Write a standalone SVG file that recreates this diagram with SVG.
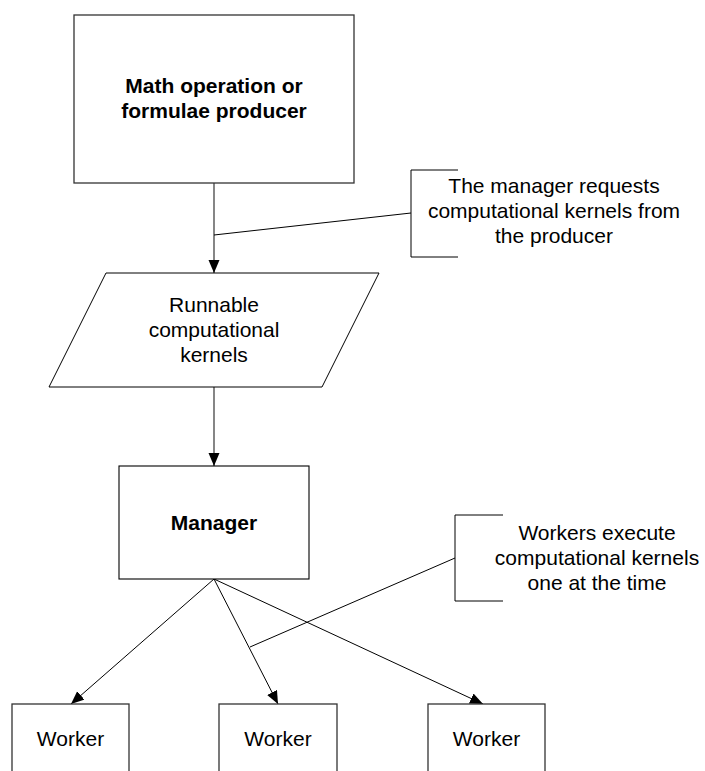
<svg xmlns="http://www.w3.org/2000/svg" width="705" height="771" viewBox="0 0 705 771">
  <defs>
    <marker id="arrow" markerUnits="userSpaceOnUse" markerWidth="14" markerHeight="12" refX="13" refY="5.5" orient="auto">
      <path d="M0,0 L13,5.5 L0,11 z" fill="#000"/>
    </marker>
    <style>
      .box { fill: #fff; stroke: #333; stroke-width: 1.3; }
      .edge { fill: none; stroke: #000; stroke-width: 1; }
      .flow { fill: none; stroke: #444; stroke-width: 1.3; }
      .note { fill: none; stroke: #000; stroke-width: 1; }
      text { font-family: "Liberation Sans", Arial, sans-serif; font-size: 21px; fill: #000; text-anchor: middle; }
      .bold { font-weight: bold; }
    </style>
  </defs>

  <rect width="705" height="771" fill="#fff"/>

  <!-- connectors -->
  <g id="connectors">
    <line class="flow" x1="214" y1="183" x2="214" y2="273" marker-end="url(#arrow)"/>
    <line class="flow" x1="214" y1="387" x2="214" y2="466" marker-end="url(#arrow)"/>
    <line class="edge" x1="214" y1="579" x2="71" y2="704" marker-end="url(#arrow)"/>
    <line class="edge" x1="214" y1="579" x2="278" y2="704" marker-end="url(#arrow)"/>
    <line class="edge" x1="214" y1="579" x2="483" y2="704" marker-end="url(#arrow)"/>
    <!-- annotation leaders -->
    <line class="note" x1="214" y1="235" x2="411" y2="213"/>
    <line class="note" x1="250" y1="647" x2="455" y2="558"/>
  </g>

  <g id="producer">
    <rect class="box" x="74" y="15" width="280" height="168"/>
    <text class="bold" x="214" y="93">Math operation or</text>
    <text class="bold" x="214" y="118">formulae producer</text>
  </g>

  <g id="note-request">
    <path class="note" d="M458,170 H411 V257 H458"/>
    <text x="554" y="193">The manager requests</text>
    <text x="554" y="218">computational kernels from</text>
    <text x="554" y="243">the producer</text>
  </g>

  <g id="kernels">
    <polygon class="box" points="106,273 379,273 322,387 49,387" style="stroke:#000;stroke-width:1"/>
    <text x="214" y="312">Runnable</text>
    <text x="214" y="337">computational</text>
    <text x="214" y="362">kernels</text>
  </g>

  <g id="manager">
    <rect class="box" x="119" y="466" width="190" height="113" style="stroke:#000;stroke-width:1.1"/>
    <text class="bold" x="214" y="530">Manager</text>
  </g>

  <g id="note-workers">
    <path class="note" d="M503,515 H455 V601 H503"/>
    <text x="597" y="540">Workers execute</text>
    <text x="597" y="565">computational kernels</text>
    <text x="597" y="590">one at the time</text>
  </g>

  <g id="worker-1">
    <rect class="box" x="12" y="704" width="117" height="90"/>
    <text x="70.5" y="746">Worker</text>
  </g>
  <g id="worker-2">
    <rect class="box" x="219" y="704" width="118" height="90"/>
    <text x="278" y="746">Worker</text>
  </g>
  <g id="worker-3">
    <rect class="box" x="428" y="704" width="117" height="90"/>
    <text x="486.5" y="746">Worker</text>
  </g>
</svg>
